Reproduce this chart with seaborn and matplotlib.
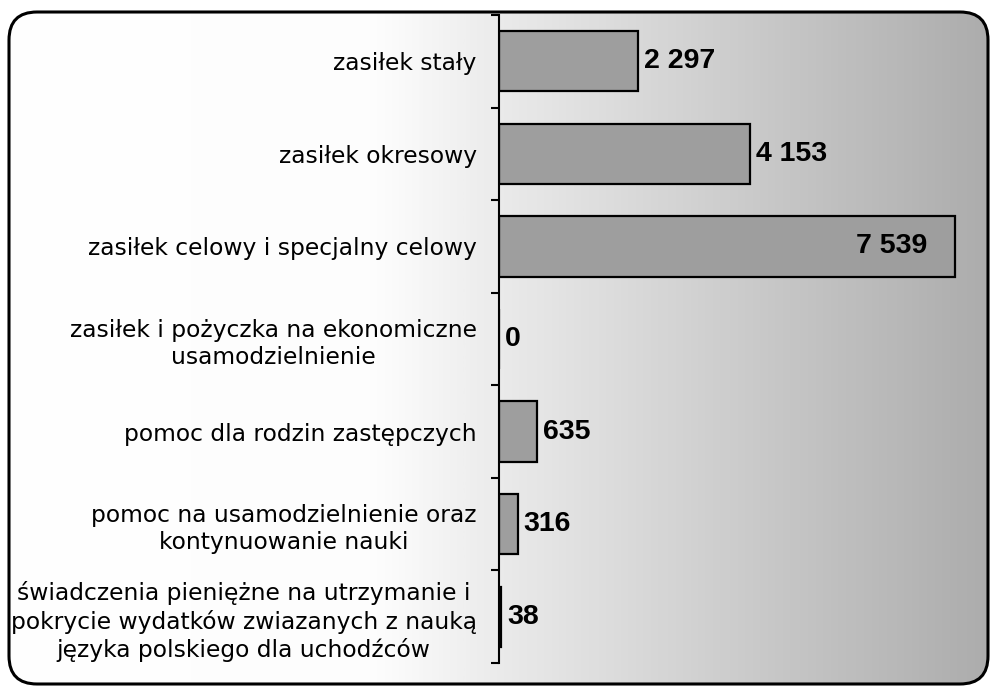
import numpy as np
import pandas as pd
import matplotlib
matplotlib.use("Agg")
import matplotlib.pyplot as plt
from matplotlib.patches import FancyBboxPatch
from matplotlib.colors import LinearSegmentedColormap
import seaborn as sns

categories = [
    "zasiłek stały",
    "zasiłek okresowy",
    "zasiłek celowy i specjalny celowy",
    "zasiłek i pożyczka na ekonomiczne\nusamodzielnienie",
    "pomoc dla rodzin zastępczych",
    "pomoc na usamodzielnienie oraz\nkontynuowanie nauki",
    "świadczenia pieniężne na utrzymanie i\npokrycie wydatków zwiazanych z nauką\njęzyka polskiego dla uchodźców",
]
values = [2297, 4153, 7539, 0, 635, 316, 38]
value_labels = ["2 297", "4 153", "7 539", "0", "635", "316", "38"]

sns.set_theme(style="white")
plt.rcParams["font.family"] = ["DejaVu Sans"]

W, H = 994, 688
fig = plt.figure(figsize=(W / 100, H / 100), dpi=100)
fig.patch.set_facecolor("white")

# background with rounded frame and gradient
bg = fig.add_axes([0, 0, 1, 1], zorder=0)
bg.set_xlim(0, W)
bg.set_ylim(H, 0)
bg.axis("off")
cmap = LinearSegmentedColormap.from_list(
    "g", [(0, "#ffffff"), (0.38, "#fdfdfd"), (0.5, "#ebebeb"), (0.75, "#cbcbcb"), (1, "#acacac")])
grad = np.linspace(0, 1, 400).reshape(1, -1)
im = bg.imshow(grad, extent=[0, W, H, 0], aspect="auto", cmap=cmap, zorder=1)
frame = FancyBboxPatch((9, 12), 979, 672, boxstyle="round,pad=0,rounding_size=28",
                       facecolor="none", edgecolor="black", linewidth=2.2,
                       transform=bg.transData, zorder=3)
bg.add_patch(frame)
clip = FancyBboxPatch((9, 12), 979, 672, boxstyle="round,pad=0,rounding_size=28",
                      transform=bg.transData, facecolor="none", edgecolor="none")
bg.add_patch(clip)
im.set_clip_path(clip)

# main axes
left, right, top, bottom = 499, 988, 15, 663
ax = fig.add_axes([left / W, (H - bottom) / H, (right - left) / W, (bottom - top) / H], zorder=2)
ax.patch.set_alpha(0)

df = pd.DataFrame({"kategoria": categories, "wartosc": values})
sns.barplot(data=df, x="wartosc", y="kategoria", orient="h", color="#9e9e9e",
            saturation=1, edgecolor="black", linewidth=1.6, width=0.65, ax=ax)

ax.set_xlim(0, 8080)
ax.set_ylim(len(categories) - 0.5, -0.5)
ax.set_xlabel("")
ax.set_ylabel("")
ax.set_xticks([])
for s in ["top", "right", "bottom"]:
    ax.spines[s].set_visible(False)
ax.spines["left"].set_linewidth(1.5)
ax.spines["left"].set_color("black")

ax.set_yticks(range(len(categories)))
ax.set_yticklabels(categories, fontsize=16.8, color="black")
ax.set_yticks(np.arange(-0.5, len(categories), 1.0), minor=True)
ax.tick_params(axis="y", which="major", length=0, pad=16)
ax.tick_params(axis="y", which="minor", length=6, width=1.5, color="black", left=True, direction="out")
for t in ax.get_yticklabels():
    t.set_multialignment("center")
    t.set_linespacing(1.25)

for i, (v, lab) in enumerate(zip(values, value_labels)):
    if v > 6000:
        ax.annotate(lab, xy=(v, i), xytext=(-20, 0), textcoords="offset points",
                    ha="right", va="center", fontsize=20.5, fontweight="bold",
                    family="Liberation Sans", color="black")
    else:
        ax.annotate(lab, xy=(v, i), xytext=(4, 0), textcoords="offset points",
                    ha="left", va="center", fontsize=20.5, fontweight="bold",
                    family="Liberation Sans", color="black")

fig.savefig("out.png", dpi=100)
